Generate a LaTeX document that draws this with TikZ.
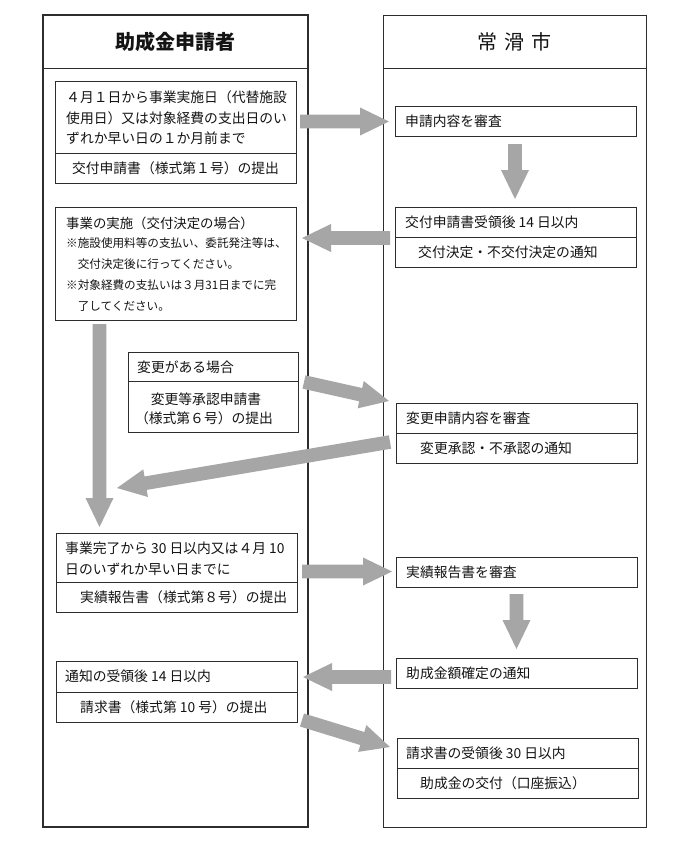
\documentclass[tikz,border=0pt]{standalone}
\usepackage{fontspec}
\setmainfont{Noto Sans CJK JP}
\usetikzlibrary{calc}
\definecolor{arrowgray}{RGB}{166,166,166}
\definecolor{linecol}{RGB}{45,45,45}
\definecolor{txtcol}{RGB}{20,20,20}
% block arrow from tail coordinate #1 to tip coordinate #2
\newcommand\blockarrow[2]{%
  \path (#1) coordinate (ba-t) (#2) coordinate (ba-h);
  \path ($(ba-h)!29pt!(ba-t)$) coordinate (ba-m);
  \fill[arrowgray]
    ($(ba-t)!6.8pt!90:(ba-h)$) -- ($(ba-m)!6.8pt!-90:(ba-t)$) --
    ($(ba-m)!14pt!-90:(ba-t)$) -- (ba-h) --
    ($(ba-m)!14pt!90:(ba-t)$) -- ($(ba-m)!6.8pt!90:(ba-t)$) --
    ($(ba-t)!6.8pt!-90:(ba-h)$) -- cycle;}
\begin{document}
\begin{tikzpicture}[x=1pt,y=-1pt,
  lane/.style={draw=linecol, anchor=north west, inner sep=0pt, outer sep=0pt},
  box/.style={draw=linecol, line width=0.8pt, anchor=north west, inner sep=0pt, outer sep=0pt},
  divline/.style={draw=linecol, line width=0.8pt},
  txt/.style={anchor=west, inner sep=0pt, text=txtcol, font=\fontsize{13.8}{16}\selectfont},
  ctxt/.style={anchor=center, inner sep=0pt, text=txtcol, font=\fontsize{13.8}{16}\selectfont},
  stxt/.style={anchor=west, inner sep=0pt, text=txtcol, font=\fontsize{11.6}{14}\selectfont},
  headtxt/.style={anchor=center, inner sep=0pt, text=txtcol, font=\fontsize{20}{24}\selectfont}]
\fill[white] (0,0) rectangle (690,854);
\path[use as bounding box] (0,0) rectangle (690,854);

% lanes
\node[lane, line width=1.8pt, minimum width=265pt, minimum height=812pt] (laneL) at (43,15) {};
\draw[draw=linecol, line width=1pt] (43,68) -- (308,68);
\node[lane, line width=0.8pt, minimum width=263pt, minimum height=812pt] (laneR) at (383,15) {};
\draw[draw=linecol, line width=0.8pt] (383,68) -- (646,68);
\node[headtxt, font=\fontsize{20}{24}\selectfont\bfseries] (hL) at (175.5,42) {助成金申請者};
\node[headtxt] (hR) at (514.5,42) {常\hspace{7pt}滑\hspace{7pt}市};

% left box 1
\node[box, minimum width=241pt, minimum height=102pt] (b1) at (55,81) {};
\draw[divline] (55,153) -- (296,153);
\node[txt] (b1a) at (66,97) {４月１日から事業実施日（代替施設};
\node[txt] (b1b) at (66,118) {使用日）又は対象経費の支出日のい};
\node[txt] (b1c) at (66,138) {ずれか早い日の１か月前まで};
\node[ctxt] (b1d) at (175.5,168) {交付申請書（様式第１号）の提出};

% left box 2
\node[box, minimum width=241pt, minimum height=113pt] (b2) at (55,207) {};
\node[txt, font=\fontsize{13.4}{16}\selectfont] (b2a) at (66,223) {事業の実施（交付決定の場合）};
\node[stxt] (b2b) at (66,243) {※施設使用料等の支払い、委託発注等は、};
\node[stxt] (b2c) at (66,264) {　交付決定後に行ってください。};
\node[stxt] (b2d) at (66,285) {※対象経費の支払いは３月31日までに完};
\node[stxt] (b2e) at (66,306) {　了してください。};

% right box 1
\node[box, minimum width=241pt, minimum height=30pt] (r1) at (395,106) {};
\node[txt] (r1a) at (405,121) {申請内容を審査};

% right box 2
\node[box, minimum width=241pt, minimum height=60pt] (r2) at (395,207) {};
\draw[divline] (395,237) -- (636,237);
\node[txt] (r2a) at (405,222) {交付申請書受領後 14 日以内};
\node[txt] (r2b) at (418,252) {交付決定・不交付決定の通知};

% change box (left)
\node[box, minimum width=170pt, minimum height=80pt] (c1) at (128,352) {};
\draw[divline] (128,381) -- (298,381);
\node[txt] (c1a) at (137,367) {変更がある場合};
\node[ctxt] (c1b) at (206,399) {変更等承認申請書};
\node[ctxt] (c1c) at (204,418) {（様式第６号）の提出};

% change box (right)
\node[box, minimum width=241pt, minimum height=60pt] (c2) at (396,403) {};
\draw[divline] (396,433) -- (637,433);
\node[txt] (c2a) at (406,418) {変更申請内容を審査};
\node[txt] (c2b) at (420,448) {変更承認・不承認の通知};

% left box 3
\node[box, minimum width=241pt, minimum height=79pt] (b3) at (56,533) {};
\draw[divline] (56,582) -- (297,582);
\node[txt] (b3a) at (65,548) {事業完了から 30 日以内又は４月 10};
\node[txt] (b3b) at (65,569) {日のいずれか早い日までに};
\node[txt] (b3c) at (80,597) {実績報告書（様式第８号）の提出};

% right box 3
\node[box, minimum width=241pt, minimum height=30pt] (r3) at (396,557) {};
\node[txt] (r3a) at (406,572) {実績報告書を審査};

% right box 4
\node[box, minimum width=241pt, minimum height=30pt] (r4) at (396,658) {};
\node[txt] (r4a) at (406,673) {助成金額確定の通知};

% left box 4
\node[box, minimum width=241pt, minimum height=61pt] (b4) at (56,661) {};
\draw[divline] (56,692) -- (297,692);
\node[txt] (b4a) at (65,676) {通知の受領後 14 日以内};
\node[txt] (b4b) at (80,707) {請求書（様式第 10 号）の提出};

% right box 5
\node[box, minimum width=241pt, minimum height=60pt] (r5) at (397,738) {};
\draw[divline] (397,768) -- (638,768);
\node[txt] (r5a) at (406,753) {請求書の受領後 30 日以内};
\node[txt] (r5b) at (420,783) {助成金の交付（口座振込）};

% arrow end points
\coordinate (a1t) at (300,121.5);   \coordinate (a1h) at (389,121.5);
\coordinate (a2t) at (390,238);     \coordinate (a2h) at (302,238);
\coordinate (a3t) at (515,144);     \coordinate (a3h) at (515,199);
\coordinate (a4t) at (99.5,324);    \coordinate (a4h) at (99.5,527);
\coordinate (a5t) at (304,382);     \coordinate (a5h) at (389,401);
\coordinate (a6t) at (390,442);     \coordinate (a6h) at (117,488);
\coordinate (a7t) at (302,571.5);   \coordinate (a7h) at (392,571.5);
\coordinate (a8t) at (516.5,594);   \coordinate (a8h) at (516.5,649);
\coordinate (a9t) at (391,677);     \coordinate (a9h) at (303,677);
\coordinate (a10t) at (302,720);    \coordinate (a10h) at (390,747);

\blockarrow{a1t}{a1h}
\blockarrow{a2t}{a2h}
\blockarrow{a3t}{a3h}
\blockarrow{a4t}{a4h}
\blockarrow{a5t}{a5h}
\blockarrow{a6t}{a6h}
\blockarrow{a7t}{a7h}
\blockarrow{a8t}{a8h}
\blockarrow{a9t}{a9h}
\blockarrow{a10t}{a10h}
\end{tikzpicture}
\end{document}
